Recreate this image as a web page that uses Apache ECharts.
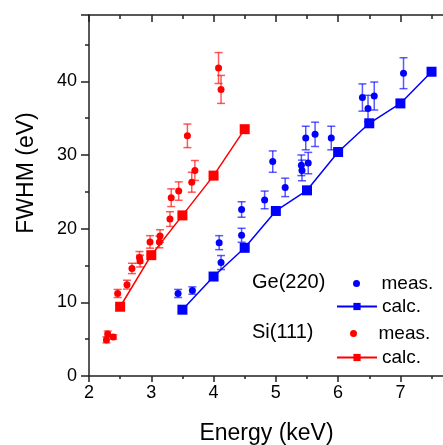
<!DOCTYPE html>
<html>
<head>
<meta charset="utf-8">
<script src="https://cdn.jsdelivr.net/npm/echarts@6/dist/echarts.min.js"></script>
<style>html,body{margin:0;padding:0;background:#fff}#c{width:443px;height:445px}</style>
</head>
<body>
<div id="c"></div>
<script>
// ---- data ----
const xTicks = [2, 3, 4, 5, 6, 7];
const yTicks = [0, 10, 20, 30, 40];
// Si(111) measured: energy (keV), FWHM (eV), error (eV)
const siMeasE   = [2.28, 2.30, 2.39, 2.46, 2.61, 2.69, 2.81, 2.82, 2.98, 3.13, 3.14, 3.30, 3.32, 3.44, 3.58, 3.65, 3.70, 4.08, 4.12];
const siMeasF   = [4.9, 5.7, 5.3, 11.2, 12.4, 14.6, 16.1, 15.6, 18.2, 18.2, 19.0, 21.3, 24.2, 25.1, 32.6, 26.3, 27.9, 41.8, 38.9];
const siMeasErr = [0.4, 0.4, 0.3, 0.55, 0.6, 0.7, 0.8, 0.8, 0.85, 0.8, 0.85, 1.0, 1.2, 1.25, 1.6, 1.35, 1.35, 2.1, 1.9];
// Si(111) calculated
const siCalcE = [2.5, 3.0, 3.5, 4.0, 4.5];
const siCalcF = [9.4, 16.4, 21.8, 27.2, 33.5];
// Ge(220) measured
const geMeasE   = [3.43, 3.66, 4.09, 4.12, 4.45, 4.45, 4.82, 4.95, 5.15, 5.41, 5.42, 5.52, 5.48, 5.63, 5.89, 6.39, 6.48, 6.58, 7.05];
const geMeasF   = [11.2, 11.6, 18.1, 15.4, 22.6, 19.1, 23.9, 29.1, 25.6, 28.6, 27.9, 28.9, 32.3, 32.8, 32.3, 37.8, 36.3, 38.0, 41.1];
const geMeasErr = [0.55, 0.5, 0.95, 0.95, 1.05, 0.95, 1.2, 1.45, 1.25, 1.4, 1.4, 1.45, 1.6, 1.65, 1.6, 1.85, 1.8, 1.9, 2.1];
// Ge(220) calculated
const geCalcE = [3.5, 4.0, 4.5, 5.0, 5.5, 6.0, 6.5, 7.0, 7.5];
const geCalcF = [9.0, 13.5, 17.4, 22.4, 25.2, 30.4, 34.3, 37.0, 41.3];

const RED = '#ff0000', BLUE = '#0000ff';
const FONT = 'Liberation Sans, Arial, sans-serif';

function zip(a, b, c) { return a.map((v, i) => c ? [v, b[i], c[i]] : [v, b[i]]); }

function errRender(color) {
  return function (params, api) {
    const x = api.value(0), y = api.value(1), e = api.value(2);
    const t = api.coord([x, y + e]), b = api.coord([x, y - e]);
    const cw = 4;
    const st = { stroke: color, lineWidth: 1.5, opacity: 0.65 };
    return {
      type: 'group', children: [
        { type: 'line', shape: { x1: t[0], y1: t[1], x2: b[0], y2: b[1] }, style: st },
        { type: 'line', shape: { x1: t[0] - cw, y1: t[1], x2: t[0] + cw, y2: t[1] }, style: st },
        { type: 'line', shape: { x1: b[0] - cw, y1: b[1], x2: b[0] + cw, y2: b[1] }, style: st }
      ]
    };
  };
}

const axisLine = { show: true, lineStyle: { color: '#222', width: 1.5 } };

const chart = echarts.init(document.getElementById('c'), null, { renderer: 'canvas' });
const legendBase = (name, left, top, h) => ({
  data: [name], left: left, top: top, itemWidth: 40, itemHeight: h, padding: 0,
  formatter: n => n.split(' ')[1],
  textStyle: { fontFamily: FONT, fontSize: 19, color: '#000' },
  selectedMode: false
});
chart.setOption({
  animation: false,
  grid: { left: 89, right: -1, top: 15, bottom: 69, outerBoundsMode: 'none', containLabel: false },
  xAxis: [{
    type: 'value', min: 2, max: 7.7, interval: 1,
    axisLine: axisLine,
    axisTick: { show: true, length: 6, lineStyle: { color: '#222', width: 1.5 } },
    minorTick: { show: true, splitNumber: 2, length: 3, lineStyle: { color: '#222', width: 1.5 } },
    splitLine: { show: false },
    axisLabel: { fontFamily: FONT, fontSize: 18, color: '#000', margin: 8,
      formatter: v => xTicks.includes(v) ? String(v) : '' },
    name: 'Energy (keV)', nameLocation: 'middle', nameGap: 46,
    nameTextStyle: { fontFamily: FONT, fontSize: 23, color: '#000' }
  }, {
    type: 'value', min: 2, max: 7.7, interval: 1, position: 'top',
    axisLine: axisLine,
    axisTick: { show: true, inside: true, length: 7, lineStyle: { color: '#222', width: 1.5 } },
    minorTick: { show: true, splitNumber: 2, length: 4, lineStyle: { color: '#222', width: 1.5 } },
    splitLine: { show: false }, axisLabel: { show: false }
  }],
  yAxis: {
    type: 'value', min: 0, max: 49, interval: 10,
    axisLine: axisLine,
    axisTick: { show: true, length: 8, lineStyle: { color: '#222', width: 1.5 } },
    minorTick: { show: true, splitNumber: 2, length: 4, lineStyle: { color: '#222', width: 1.5 } },
    splitLine: { show: false },
    axisLabel: { fontFamily: FONT, fontSize: 18, color: '#000', margin: 12,
      formatter: v => yTicks.includes(v) ? String(v) : '' }
  },
  legend: [
    legendBase('Ge(220) meas.', 353, 274, 7),
    legendBase('Ge(220) calc.', 336, 297, 9),
    legendBase('Si(111) meas.', 350, 324, 7),
    legendBase('Si(111) calc.', 336, 348, 9)
  ],
  graphic: [
    { type: 'text', x: 252, y: 282, style: { text: 'Ge(220)', fontFamily: FONT, fontSize: 20, fill: '#000', verticalAlign: 'middle' } },
    { type: 'text', x: 252, y: 332, style: { text: 'Si(111)', fontFamily: FONT, fontSize: 20, fill: '#000', verticalAlign: 'middle' } },
    { type: 'text', x: 27, y: 173, rotation: Math.PI / 2,
      style: { text: 'FWHM (eV)', fontFamily: FONT, fontSize: 23, fill: '#000', align: 'center', verticalAlign: 'middle' } }
  ],
  series: [
    { type: 'custom', name: 'si err', renderItem: errRender(RED), data: zip(siMeasE, siMeasF, siMeasErr), z: 1 },
    { type: 'custom', name: 'ge err', renderItem: errRender(BLUE), data: zip(geMeasE, geMeasF, geMeasErr), z: 1 },
    { type: 'line', name: 'Si(111) calc.', data: zip(siCalcE, siCalcF), symbol: 'rect', symbolSize: 10,
      lineStyle: { color: RED, width: 1.5 }, itemStyle: { color: RED }, z: 2 },
    { type: 'line', name: 'Ge(220) calc.', data: zip(geCalcE, geCalcF), symbol: 'rect', symbolSize: 10,
      lineStyle: { color: BLUE, width: 1.5 }, itemStyle: { color: BLUE }, z: 2 },
    { type: 'scatter', name: 'Si(111) meas.', data: zip(siMeasE, siMeasF), symbol: 'circle', symbolSize: 7,
      itemStyle: { color: RED, opacity: 1 }, z: 3 },
    { type: 'scatter', name: 'Ge(220) meas.', data: zip(geMeasE, geMeasF), symbol: 'circle', symbolSize: 7,
      itemStyle: { color: BLUE, opacity: 1 }, z: 3 }
  ]
});
</script>
</body>
</html>
